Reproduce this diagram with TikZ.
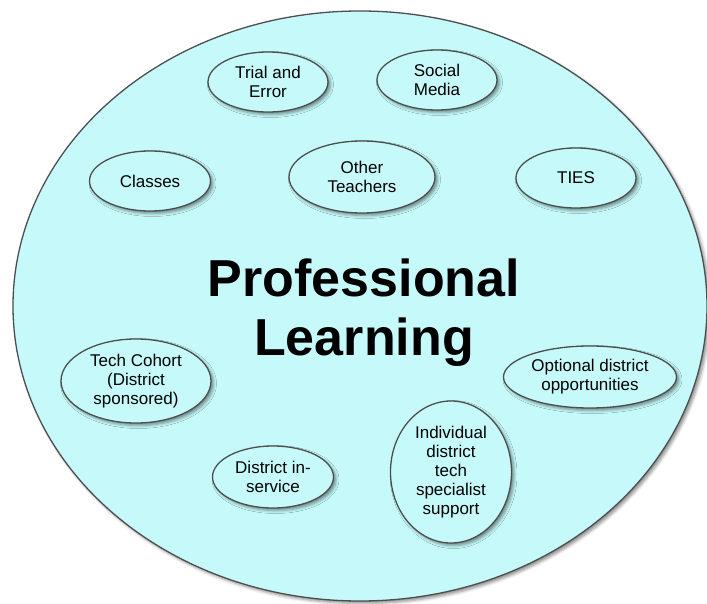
\documentclass[tikz,border=0pt]{standalone}
\usepackage{fontspec}
\setmainfont{Liberation Sans}
\usetikzlibrary{shapes.geometric,shadows.blur}
\definecolor{poolcyan}{RGB}{198,250,250}
\definecolor{rimgray}{RGB}{78,78,78}
\begin{document}
\begin{tikzpicture}[x=1pt,y=-1pt,
  rim/.style={ellipse,draw=rimgray,line width=1.3pt,fill=poolcyan,inner sep=0pt},
  soft/.style={blur shadow={shadow xshift=2.5pt,shadow yshift=-2.5pt,shadow blur radius=3pt,shadow opacity=45}},
  way/.style={rim,soft,align=center,font=\fontsize{17}{19}\selectfont}]
\useasboundingbox (0,0) rectangle (707,604);
\node[rim,soft,minimum width=694pt,minimum height=590pt] (pool) at (360,306) {};
\node[font=\fontsize{52}{59}\selectfont\bfseries,align=center] (topic) at (364,313) {Professional\\Learning};
%
\node[way,minimum width=120pt,minimum height=60pt] (trial) at (268,82) {Trial and\\Error};
\node[way,minimum width=120pt,minimum height=60pt] (social) at (437,80) {Social\\Media};
\node[way,minimum width=121pt,minimum height=60pt] (classes) at (150,181) {Classes};
\node[way,minimum width=146pt,minimum height=72pt] (others) at (362,177) {Other\\Teachers};
\node[way,minimum width=120pt,minimum height=60pt] (ties) at (576,178) {TIES};
%
\node[way,minimum width=150pt,minimum height=84pt] (cohort) at (136,381) {Tech Cohort\\(District\\sponsored)};
\node[way,minimum width=173pt,minimum height=62pt] (optional) at (590,377) {Optional district\\opportunities};
\node[way,minimum width=121pt,minimum height=142pt] (specialist) at (451,472) {Individual\\district\\tech\\specialist\\support};
\node[way,minimum width=121pt,minimum height=62pt] (inservice) at (273,477) {District in-\\service};
\end{tikzpicture}
\end{document}
